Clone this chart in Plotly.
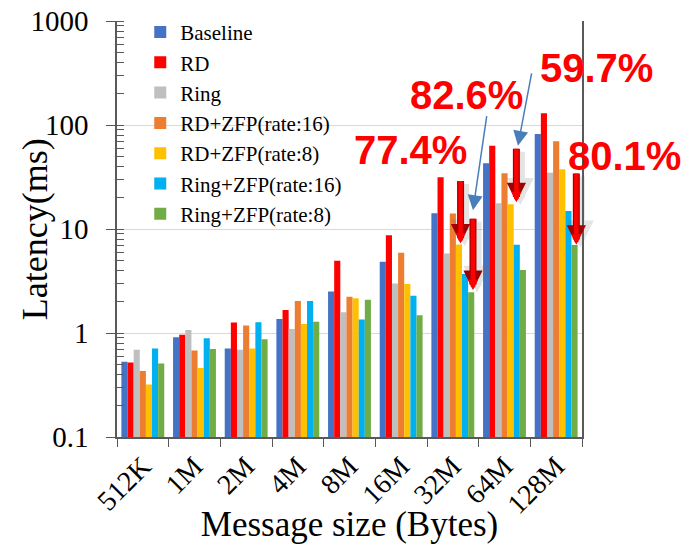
import math
import plotly.graph_objects as go

sizes = ["512K", "1M", "2M", "4M", "8M", "16M", "32M", "64M", "128M"]

baseline   = [0.53, 0.91, 0.71, 1.36, 2.50, 4.85, 14.2, 42.8, 81.9]
rd         = [0.52, 0.96, 1.26, 1.66, 4.96, 8.70, 31.4, 63.2, 129.5]
ring       = [0.69, 1.07, 0.69, 1.09, 1.58, 3.00, 5.80, 17.7, 34.8]
rd_zfp16   = [0.43, 0.68, 1.18, 2.03, 2.23, 5.90, 14.1, 34.3, 69.7]
rd_zfp8    = [0.32, 0.46, 0.71, 1.22, 2.16, 2.96, 7.10, 17.3, 37.5]
ring_zfp16 = [0.71, 0.89, 1.27, 2.03, 1.35, 2.28, 3.70, 7.07, 14.9]
ring_zfp8  = [0.51, 0.70, 0.87, 1.28, 2.09, 1.48, 2.47, 4.03, 7.00]

series = [
    ("Baseline", baseline, "#4472C4"),
    ("RD", rd, "#FF0000"),
    ("Ring", ring, "#BFBFBF"),
    ("RD+ZFP(rate:16)", rd_zfp16, "#ED7D31"),
    ("RD+ZFP(rate:8)", rd_zfp8, "#FFC000"),
    ("Ring+ZFP(rate:16)", ring_zfp16, "#00B0F0"),
    ("Ring+ZFP(rate:8)", ring_zfp8, "#70AD47"),
]

# reduction callouts: (text, paper x, paper y)
labels = [
    ("77.4%", 0.632, 0.689),
    ("82.6%", 0.752, 0.822),
    ("59.7%", 1.032, 0.887),
    ("80.1%", 1.091, 0.675),
]
# red reduction arrows: (x index, tail value, head value)
red_arrows = [
    (6.15, 30.0, 7.3),
    (6.39, 13.0, 2.6),
    (7.23, 61.0, 18.2),
    (8.39, 35.3, 7.1),
]
# blue pointer arrows: (tail x, tail log y, head x, head log y)
blue_arrows = [
    (6.66, 2.10, 6.39, 1.18),
    (7.53, 2.51, 7.26, 1.80),
]

serif = "Liberation Serif, Times New Roman, serif"

fig = go.Figure()
for name, vals, color in series:
    fig.add_trace(go.Bar(name=name, x=sizes, y=vals, marker=dict(color=color, line=dict(width=0))))

annotations = []
for x, t, h in red_arrows:
    common = dict(x=x, y=math.log10(h), ax=x, ay=math.log10(t), xref="x", yref="y",
                  axref="x", ayref="y", showarrow=True, arrowhead=2, text="")
    # soft shadow
    annotations.append(dict(common, arrowsize=0.6, arrowwidth=9,
                            arrowcolor="rgba(110,110,110,0.18)", xshift=4, yshift=-3))
    annotations.append(dict(common, arrowsize=0.55, arrowwidth=7, arrowcolor="#A00000"))
    annotations.append(dict(common, arrowsize=0.45, arrowwidth=4.5, arrowcolor="#FF0000"))
for tx, ty, hx, hy in blue_arrows:
    annotations.append(dict(x=hx, y=hy, ax=tx, ay=ty, xref="x", yref="y", axref="x", ayref="y",
                            showarrow=True, arrowhead=2, arrowsize=2.0, arrowwidth=1.5,
                            arrowcolor="#4A7EBB", text=""))
for text, x, y in labels:
    annotations.append(dict(x=x, y=y, xref="paper", yref="paper", text=f"<b>{text}</b>",
                            showarrow=False, xanchor="center", yanchor="middle",
                            font=dict(family="Liberation Sans", size=40, color="#FF0000")))

# y-axis title, set as a rotated annotation beside the tick labels
annotations.append(dict(x=-0.176, y=0.5, xref="paper", yref="paper", text="Latency(ms)",
                        textangle=-90, showarrow=False, xanchor="center", yanchor="middle",
                        font=dict(family=serif, size=36, color="#000000")))

fig.update_layout(
    width=682, height=544,
    margin=dict(l=117, r=100, t=21, b=107),
    paper_bgcolor="white", plot_bgcolor="white",
    barmode="group", bargap=0.17, bargroupgap=0,
    font=dict(family=serif, color="#000000"),
    legend=dict(x=0.05, y=1.022, xanchor="left", yanchor="top", bgcolor="rgba(0,0,0,0)",
                font=dict(family=serif, size=21), tracegroupgap=0, itemwidth=30),
    annotations=annotations,
    showlegend=True,
)
fig.update_xaxes(
    type="category", range=[-0.5, 8.5], automargin=False,
    tickangle=-45, tickfont=dict(family=serif, size=28),
    ticks="outside", ticklen=8, tickcolor="#595959", tickson="boundaries",
    showline=True, linecolor="#595959", linewidth=1.5,
    title=dict(text="Message size (Bytes)", font=dict(family=serif, size=35), standoff=0),
    showgrid=False,
)
fig.update_yaxes(
    type="log", range=[-1, 3], automargin=False,
    tickvals=[0.1, 1, 10, 100, 1000], ticktext=["0.1", "1", "10", "100", "1000"],
    tickfont=dict(family=serif, size=29),
    ticks="outside", ticklen=9, tickcolor="#595959", ticklabelstandoff=12,
    minor=dict(ticks="inside", ticklen=7, tickcolor="#595959", dtick="D1", showgrid=False),
    showline=True, linecolor="#595959", linewidth=1.5, mirror=True,
    showgrid=True, gridcolor="#D9D9D9", gridwidth=1,
)

fig.write_html("out.html")
